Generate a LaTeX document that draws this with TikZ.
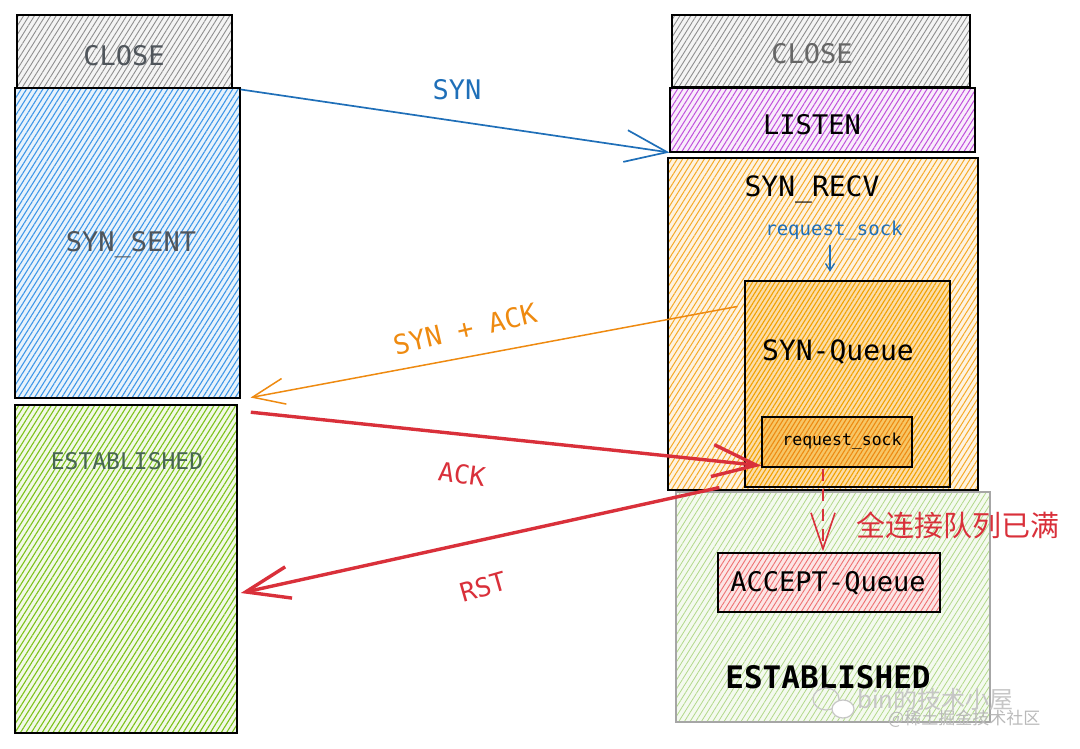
\documentclass[tikz,border=0pt]{standalone}
\usepackage{fontspec}
\newfontfamily\mono{DejaVu Sans Mono}
\newfontfamily\cjk{Noto Sans CJK SC}
\usetikzlibrary{patterns.meta,arrows.meta,calc}
\definecolor{cgray}{HTML}{8E8E8E}
\definecolor{cblue}{HTML}{3F97E8}
\definecolor{cgreen}{HTML}{7CC21A}
\definecolor{cpurple}{HTML}{C050DC}
\definecolor{corange}{HTML}{F5AA28}
\definecolor{cdorange}{HTML}{F2A000}
\definecolor{cred}{HTML}{D9303A}
\definecolor{clgreen}{HTML}{B2D88A}
\definecolor{clred}{HTML}{EE7070}
\definecolor{synblue}{HTML}{1F6FB8}
\definecolor{ackorange}{HTML}{EE8A10}
\definecolor{txtgray}{HTML}{4F555B}
\begin{document}
\begin{tikzpicture}[x=1pt,y=-1pt,
  box/.style={draw=black, line width=1.6pt, inner sep=0pt},
  hgray/.style={preaction={fill=cgray!10}, pattern={Lines[angle=58,distance=4.6pt,line width=0.9pt]}, pattern color=cgray},
  hblue/.style={preaction={fill=cblue!12}, pattern={Lines[angle=58,distance=4.6pt,line width=1.1pt]}, pattern color=cblue},
  hgreen/.style={preaction={fill=cgreen!10}, pattern={Lines[angle=58,distance=4.6pt,line width=1.1pt]}, pattern color=cgreen},
  hpurple/.style={preaction={fill=cpurple!10}, pattern={Lines[angle=58,distance=4.6pt,line width=1pt]}, pattern color=cpurple},
  horange/.style={preaction={fill=corange!14}, pattern={Lines[angle=58,distance=4.6pt,line width=1pt]}, pattern color=corange},
  hdorange/.style={preaction={fill=corange!40}, pattern={Lines[angle=58,distance=3.8pt,line width=1.1pt]}, pattern color=cdorange},
  hreq/.style={preaction={fill=cdorange!60}, pattern={Lines[angle=58,distance=3.8pt,line width=1.1pt]}, pattern color=ackorange},
  hlgreen/.style={preaction={fill=clgreen!14}, pattern={Lines[angle=58,distance=4.8pt,line width=0.8pt]}, pattern color=clgreen},
  hlred/.style={preaction={fill=clred!18}, pattern={Lines[angle=58,distance=4.4pt,line width=0.9pt]}, pattern color=clred},
  lbl/.style={font=\mono, inner sep=0pt},
  synarrow/.style={draw=synblue, line width=1.7pt, -{Straight Barb[length=42pt,width=32pt]}},
  sackarrow/.style={draw=ackorange, line width=1.5pt, -{Straight Barb[length=32pt,width=26pt]}},
  redarrow/.style={draw=cred, line width=3.4pt, -{Straight Barb[length=44pt,width=32pt]}},
  dasharrow/.style={draw=cred, line width=1.6pt, dash pattern=on 12pt off 8pt, -{Straight Barb[length=36pt,width=24pt]}},
  smallarrow/.style={draw=synblue, line width=1.3pt, -{Straight Barb[length=7pt,width=9pt]}}
]
\useasboundingbox (0,0) rectangle (1080,748);
% left column
\node[box, hgray, minimum width=215, minimum height=73] (closeL) at (124.5,51.5) {};
\node[box, hblue, minimum width=225, minimum height=310] (synsent) at (127.5,243) {};
\node[box, hgreen, minimum width=222, minimum height=328] (estL) at (126,569) {};
\node[lbl, text=txtgray, font=\mono\fontsize{27}{30}\selectfont] (tcloseL) at (124,56) {CLOSE};
\node[lbl, text=txtgray, font=\mono\fontsize{27}{30}\selectfont] (tsynsent) at (131,245) {SYN\_SENT};
\node[lbl, text=txtgray!90!green, font=\mono\fontsize{23}{26}\selectfont] (testL) at (127,461) {ESTABLISHED};
% right column
\node[box, hgray, minimum width=298, minimum height=72] (closeR) at (821,51) {};
\node[box, hpurple, minimum width=305, minimum height=64] (listen) at (822.5,120) {};
\node[box, horange, minimum width=310, minimum height=332] (recv) at (823,324) {};
\node[box, draw=gray!70, line width=1.3pt, hlgreen, minimum width=314, minimum height=230] (estR) at (833,607) {};
\node[box, hdorange, minimum width=205, minimum height=206] (synq) at (847.5,384) {};
\node[box, hreq, line width=1.4pt, minimum width=150, minimum height=50] (reqin) at (837,442) {};
\node[box, hlred, line width=1.4pt, minimum width=222, minimum height=59] (acceptq) at (829,582.5) {};
\node[lbl, text=gray!80!black, font=\mono\fontsize{27}{30}\selectfont] (tcloseR) at (812,54) {CLOSE};
\node[lbl, text=black, font=\mono\fontsize{27}{30}\selectfont] (tlisten) at (812,125) {LISTEN};
\node[lbl, text=black, font=\mono\fontsize{28}{30}\selectfont] (trecv) at (812,189) {SYN\_RECV};
\node[lbl, text=synblue, font=\mono\fontsize{19}{22}\selectfont] (treq) at (834,231) {request\_sock};
\node[lbl, text=black, font=\mono\fontsize{28}{30}\selectfont] (tsynq) at (838,352) {SYN-Queue};
\node[lbl, text=black, font=\mono\fontsize{16.5}{20}\selectfont] (treqin) at (842,441) {request\_sock};
\node[lbl, text=black, font=\mono\fontsize{27}{30}\selectfont] (taccept) at (828,583) {ACCEPT-Queue};
\node[lbl, text=black, font=\mono\bfseries\fontsize{31}{34}\selectfont] (testR) at (828,677) {ESTABLISHED};
% connectors
\draw[synarrow] ($(synsent.north east)+(0,2)$) -- (listen.south west);
\node[lbl, text=synblue, font=\mono\fontsize{27}{30}\selectfont] (lsyn) at (457,90) {SYN};
\draw[sackarrow] ($(synq.north west)+(-7,26)$) -- ($(synsent.south east)+(10,-1)$);
\node[lbl, text=ackorange, font=\mono\fontsize{27}{30}\selectfont, rotate=13] (lsack) at (465,329) {SYN + ACK};
\draw[redarrow] ($(estL.north east)+(13,8)$) -- ($(reqin.south west)+(0,-2)$);
\node[lbl, text=cred, font=\mono\fontsize{26}{30}\selectfont, rotate=-8] (lack) at (462,474) {ACK};
\draw[redarrow] ($(synq.south west)+(-25,0)$) -- ($(estL.east)+(3,24)$);
\node[lbl, text=cred, font=\mono\fontsize{26}{30}\selectfont, rotate=16] (lrst) at (483,587) {RST};
\draw[smallarrow] ($(treq.south)+(-4,4)$) -- ($(treq.south)+(-4,31)$);
\draw[dasharrow] ($(reqin.south)+(-14,1)$) -- ($(acceptq.north)+(-6,-1)$);
\node[font=\cjk\fontsize{29}{32}\selectfont, text=cred, inner sep=0pt] (lfull) at (958,525) {全连接队列已满};
% watermark
\draw[gray!45, line width=1.2pt] (826,699) ellipse (13 and 11);
\draw[gray!45, line width=1.2pt, fill=white] (843,709) ellipse (11 and 9);
\node[font=\cjk\fontsize{24}{26}\selectfont, text=gray!45, anchor=west, inner sep=0pt] (wm1) at (857,699) {bin的技术小屋};
\node[font=\cjk\fontsize{17}{20}\selectfont, text=gray!55, anchor=west, inner sep=0pt] (wm2) at (888,719) {@稀土掘金技术社区};
\end{tikzpicture}
\end{document}
